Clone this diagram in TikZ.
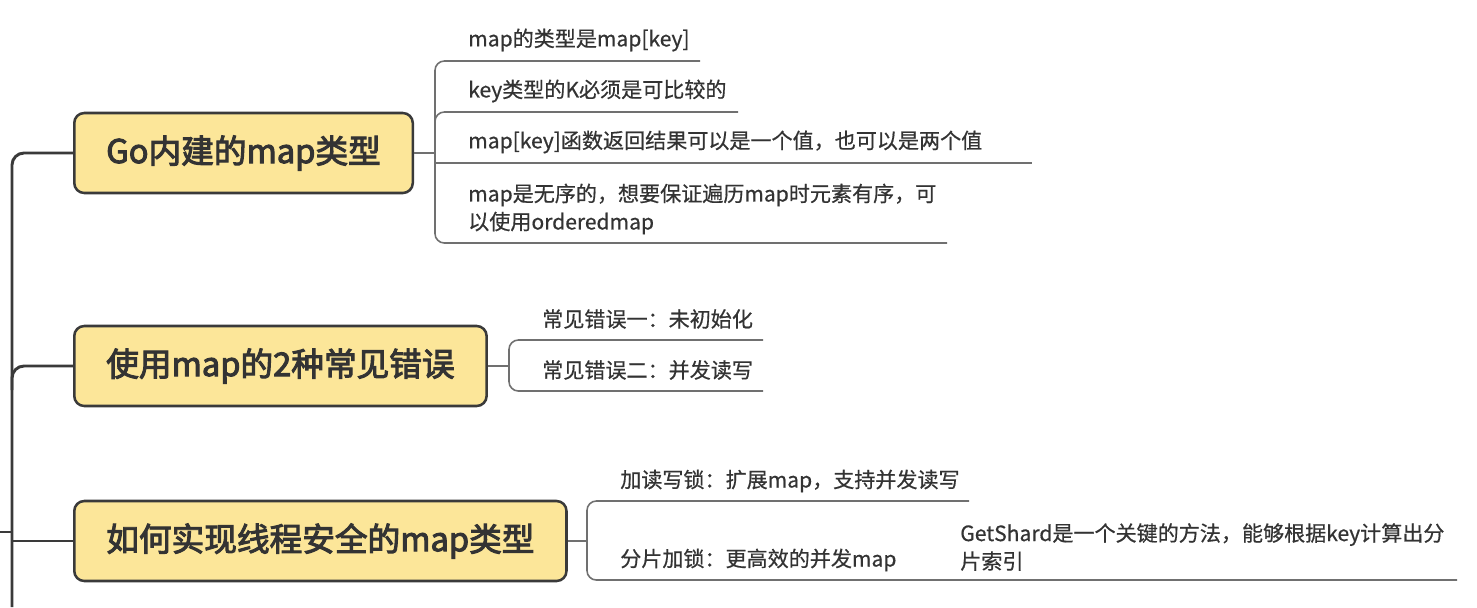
\documentclass[tikz,border=0pt]{standalone}
\usepackage{fontspec}
\setmainfont[FakeBold=0.6]{Noto Sans CJK SC}
\newfontfamily\topicfont[FakeBold=3]{Noto Sans CJK SC}
\usepackage{tikz}
\usetikzlibrary{positioning}

\definecolor{topicfill}{HTML}{FCE699}
\definecolor{topicline}{HTML}{3A3A3A}
\definecolor{twiggray}{HTML}{707070}
\definecolor{inkgray}{HTML}{333333}

\tikzset{
  topic/.style={draw=topicline, line width=1.9pt, fill=topicfill, rounded corners=7.5pt,
    minimum height=60pt, inner xsep=24pt, anchor=west, text=inkgray,
    font=\topicfont\fontsize{24.5}{30}\selectfont},
  leaf/.style={anchor=west, inner sep=0pt, text=inkgray, align=left,
    font=\fontsize{15.8}{21}\selectfont},
  trunk/.style={draw=topicline, line width=2.2pt, rounded corners=9pt},
  twig/.style={draw=twiggray, line width=1.2pt, rounded corners=7pt},
}

\begin{document}
\begin{tikzpicture}[x=0.75pt, y=-0.75pt]
\useasboundingbox (0,0) rectangle (1477,607);

% main topics
\node[topic] (go) at (73,153) {Go内建的map类型};
\node[topic] (err) at (73,366) {使用map的2种常见错误};
\node[topic] (safe) at (73,541) {如何实现线程安全的map类型};

% trunk
\coordinate (root) at (0,532);
\draw[trunk] (go.west) -- (12,153) -- (12,607);
\draw[trunk] (err.west) -- (12,366) -- (12,390);
\draw[trunk] (safe.west) -- (12,541);
\draw[trunk] (root) -- (12,532);

% first group
\node[leaf] (g1) at (468,40) {map的类型是map[key]};
\node[leaf] (g2) at (468,91) {key类型的K必须是可比较的};
\node[leaf] (g3) at (468,142) {map[key]函数返回结果可以是一个值，也可以是两个值};
\node[leaf] (g4) at (468,209) {map是无序的，想要保证遍历map时元素有序，可\\以使用orderedmap};
\draw[twig] (go.east) -- (435,153);
\draw[twig] (700,61) -- (435,61) -- (435,243) -- (947,243);
\draw[twig] (738,112) -- (435,112) -- (435,130);
\draw[twig] (435,163) -- (1032,163);

% second group
\node[leaf] (e1) at (542,319) {常见错误一：未初始化};
\node[leaf] (e2) at (542,370) {常见错误二：并发读写};
\draw[twig] (err.east) -- (509,366);
\draw[twig] (763,340) -- (509,340) -- (509,391) -- (763,391);

% third group
\node[leaf] (s1) at (620,481) {加读写锁：扩展map，支持并发读写};
\node[leaf] (s2) at (620,560) {分片加锁：更高效的并发map};
\node[leaf] (s3) at (960,547) {GetShard是一个关键的方法，能够根据key计算出分\\片索引};
\draw[twig] (safe.east) -- (587,541);
\draw[twig] (969,501) -- (587,501) -- (587,580) -- (1457,580);
\end{tikzpicture}
\end{document}
